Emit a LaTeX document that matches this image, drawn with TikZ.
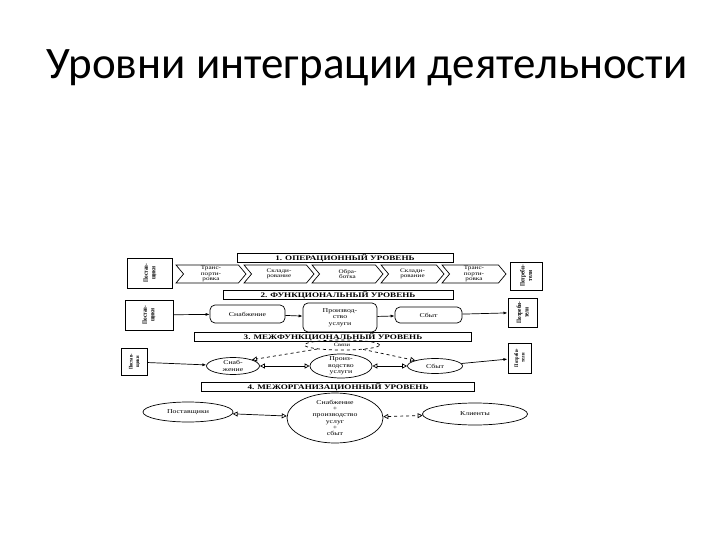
\documentclass[tikz,border=0pt]{standalone}
\usepackage{fontspec}
\setmainfont{Liberation Serif}
\newfontfamily\titlefont{Carlito}
\newfontfamily\scanfont[FakeStretch=1.3]{Liberation Serif}
\newfontfamily\sidefont[FakeStretch=0.8]{Liberation Serif}
\usepackage{tikz}
\usetikzlibrary{arrows.meta,positioning,shapes.geometric,shapes.symbols}

\begin{document}
\begin{tikzpicture}[x=1pt, y=-1pt, line width=0.7pt,
  side/.style={draw, line width=1pt, rotate=90, align=center, inner sep=0pt,
    font=\sidefont\bfseries\fontsize{6.5}{7.5}\selectfont},
  hdr/.style={draw, line width=0.8pt, inner sep=1pt, minimum height=8pt,
    font=\scanfont\bfseries\fontsize{7}{7}\selectfont},
  chev/.style={draw, shape=signal, signal from=west, signal to=east, signal pointer angle=100,
    minimum height=18pt, inner sep=0pt, align=center, font=\scanfont\fontsize{5.5}{5.5}\selectfont},
  rbox/.style={draw, rounded corners=5pt, align=center, inner sep=0pt,
    font=\scanfont\fontsize{6}{6.5}\selectfont},
  oval/.style={draw, ellipse, align=center, inner sep=0pt,
    font=\scanfont\fontsize{6}{6.5}\selectfont},
  fwd/.style={-{Latex[length=4pt,width=3pt]}},
  both/.style={{Triangle[open,length=5pt,width=5pt]}-{Triangle[open,length=5pt,width=5pt]}},
]
  \useasboundingbox (0,0) rectangle (720,540);
  \node[font=\titlefont\fontsize{45}{50}\selectfont] (title) at (367,68) {Уровни интеграции деятельности};

  % 1
  \node[hdr, minimum width=216pt] (h1) at (345,258) {1. ОПЕРАЦИОННЫЙ УРОВЕНЬ};
  \node[side, minimum width=30pt, minimum height=45pt] (sup1) at (150,273) {Постав-\\щики};
  \node[chev, minimum width=70pt] (tr1) at (211,274) {Транс-\\порти-\\ровка};
  \node[chev, minimum width=70pt] (st1) at (279,274) {Склади-\\рование};
  \node[chev, minimum width=71pt] (pr1) at (347.5,274) {Обра-\\ботка};
  \node[chev, minimum width=63pt] (st2) at (412.5,274) {Склади-\\рование};
  \node[chev, minimum width=64pt] (tr2) at (474,274) {Транс-\\порти-\\ровка};
  \node[side, minimum width=28pt, minimum height=32pt] (cons1) at (526,276) {Потреби-\\тели};

  % 2
  \node[hdr, minimum width=230pt] (h2) at (338,295) {2. ФУНКЦИОНАЛЬНЫЙ УРОВЕНЬ};
  \node[side, minimum width=30pt, minimum height=48pt] (sup2) at (149,315) {Постав-\\щики};
  \node[rbox, minimum width=75pt, minimum height=18pt] (buy2) at (247.5,314) {Снабжение};
  \node[rbox, minimum width=74pt, minimum height=29pt] (make2) at (340,317.5) {Производ-\\ство\\услуги};
  \node[rbox, minimum width=67pt, minimum height=16pt] (sell2) at (428.5,315) {Сбыт};
  \node[side, minimum width=29pt, minimum height=29pt] (cons2) at (522.5,312.5) {Потреби-\\тели};
  \draw[fwd] (sup2) -- (buy2);
  \draw[fwd] (buy2) -- (make2);
  \draw[fwd] (make2) -- (sell2);
  \draw[fwd] (sell2) -- (cons2);

  % 3
  \node[hdr, minimum width=277pt] (h3) at (333,337) {3. МЕЖФУНКЦИОНАЛЬНЫЙ УРОВЕНЬ};
  \node[side, minimum width=27pt, minimum height=26pt, font=\sidefont\bfseries\fontsize{5.5}{6.5}\selectfont] (sup3) at (134.5,362) {Постав-\\щики};
  \node[oval, minimum width=53pt, minimum height=17pt, inner sep=-1pt] (buy3) at (233,366) {Снаб-\\жение};
  \node[oval, minimum width=62pt, minimum height=24pt, inner sep=-3pt] (make3) at (341,366) {Произ-\\водство\\услуги};
  \node[oval, minimum width=55pt, minimum height=15pt] (sell3) at (435,366) {Сбыт};
  \node[oval, dashed, minimum width=75pt, minimum height=10pt, inner sep=-2pt, font=\scanfont\fontsize{5}{5}\selectfont] (link3) at (342,345) {Связи};
  \node[side, minimum width=30pt, minimum height=23pt, font=\sidefont\bfseries\fontsize{5.5}{6.5}\selectfont] (cons3) at (519.5,358) {Потреби-\\тели};
  \draw[fwd] (sup3) -- (buy3);
  \draw[both] (buy3) -- (make3);
  \draw[both] (make3) -- (sell3);
  \draw[dashed, -{Triangle[open,length=5pt,width=5pt]}] (link3) -- (buy3.north east);
  \draw[dashed, -{Triangle[open,length=5pt,width=5pt]}] (link3) -- (sell3.north west);
  \draw[fwd] (sell3) -- (cons3);

  % 4
  \node[hdr, minimum width=273pt] (h4) at (338,387) {4. МЕЖОРГАНИЗАЦИОННЫЙ УРОВЕНЬ};
  \node[oval, minimum width=90pt, minimum height=20pt] (sup4) at (188,412) {Поставщики};
  \node[oval, minimum width=96pt, minimum height=50pt, inner sep=-8pt, font=\scanfont\fontsize{6}{6.3}\selectfont] (all4) at (335,418)
    {Снабжение\\+\\производство\\услуг\\+\\сбыт};
  \node[oval, minimum width=105pt, minimum height=22pt] (cli4) at (475,414) {Клиенты};
  \draw[both] (sup4) -- (all4);
  \draw[both, dashed] (all4) -- (cli4);
\end{tikzpicture}
\end{document}
